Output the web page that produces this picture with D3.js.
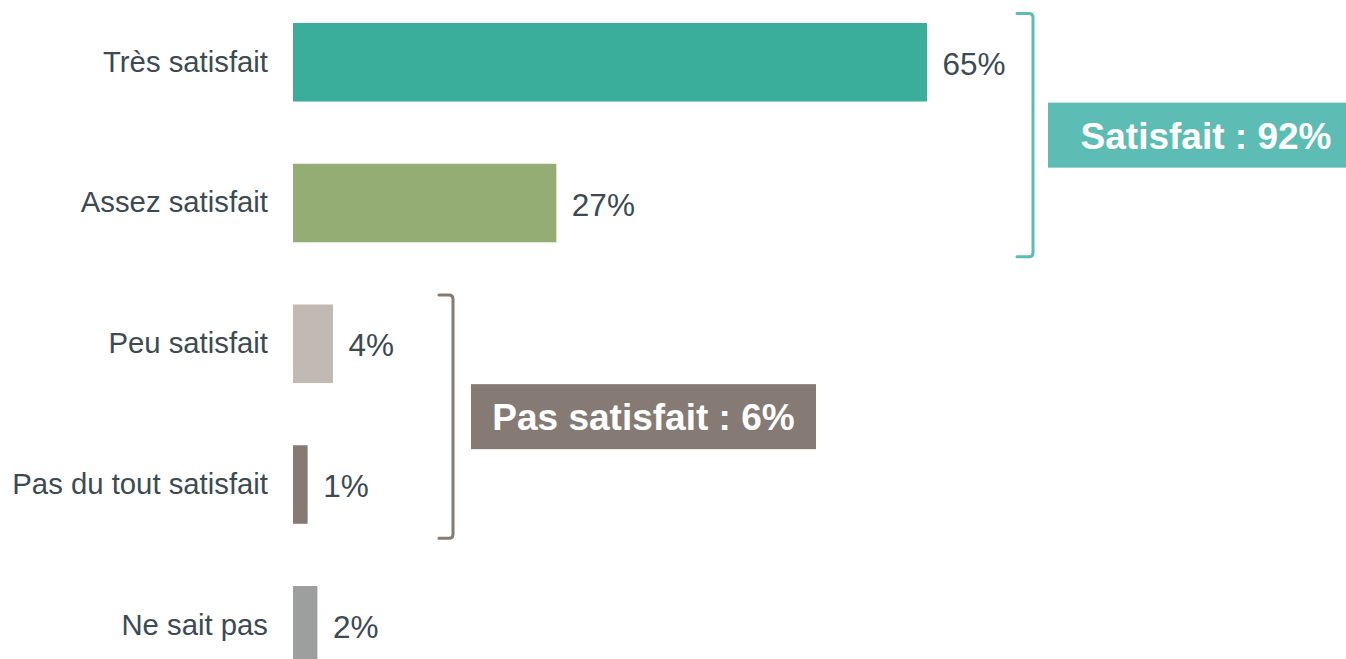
<!DOCTYPE html>
<html>
<head>
<meta charset="utf-8">
<script src="https://cdn.jsdelivr.net/npm/d3@7"></script>
<style>
  html, body { margin: 0; padding: 0; background: #ffffff; overflow: hidden; }
  svg { display: block; }
  text { font-family: "Liberation Sans", Arial, sans-serif; }
</style>
</head>
<body>
<svg id="chart" width="1346" height="659"></svg>
<script>
// ---- data ----
const categories = ["Très satisfait", "Assez satisfait", "Peu satisfait", "Pas du tout satisfait", "Ne sait pas"];
const values = [65, 27, 4.1, 1.5, 2.5];
const valueLabels = ["65%", "27%", "4%", "1%", "2%"];
const barColors = ["#3aae9a", "#93ad74", "#c1b9b3", "#857b74", "#9d9f9e"];
const groupNames = ["Satisfait : 92%", "Pas satisfait : 6%"];
const groupMembers = [[0, 1], [2, 3]];
const groupColors = ["#5dbdb4", "#857b74"];

// ---- layout ----
const W = 1346, H = 659;
const svg = d3.select("#chart");
const textColor = "#3c4a52";

const x = d3.scaleLinear().domain([0, 100]).range([293, 293 + 975.4]);
const y = d3.scaleBand().domain(categories).range([-8.1, 695.65])
  .paddingInner(0.442).paddingOuter(0.221);

// category axis (labels only)
const yAxis = d3.axisLeft(y).tickSize(0).tickPadding(25);
const gAxis = svg.append("g").attr("transform", `translate(${x(0)},0)`).call(yAxis);
gAxis.select(".domain").remove();
gAxis.selectAll("text")
  .attr("font-size", 29.3)
  .attr("fill", textColor)
  .attr("font-family", "'Liberation Sans', Arial, sans-serif");

// bars
svg.append("g").selectAll("rect").data(categories).join("rect")
  .attr("x", x(0))
  .attr("y", d => y(d))
  .attr("width", (d, i) => x(values[i]) - x(0))
  .attr("height", y.bandwidth())
  .attr("fill", (d, i) => barColors[i]);

// value labels
svg.append("g").selectAll("text").data(categories).join("text")
  .attr("x", (d, i) => x(values[i]) + 15.5)
  .attr("y", d => y(d) + y.bandwidth() / 2 + 1.5)
  .attr("dominant-baseline", "central")
  .attr("font-size", 31.5)
  .attr("fill", textColor)
  .text((d, i) => valueLabels[i]);

// brackets + group boxes
const bracketX = [1033, 453];
const tickLen = [16, 14];
const boxGap = [15, 18];
const boxW = [316, 345];
const boxH = 65;
const r = 4;

groupMembers.forEach((members, gi) => {
  const top = y(categories[members[0]]) - 9.5;
  const bottom = y(categories[members[members.length - 1]]) + y.bandwidth() + 14.5;
  const bx = bracketX[gi];
  const tl = tickLen[gi];
  const path = d3.path();
  path.moveTo(bx - tl, top);
  path.lineTo(bx - r, top);
  path.quadraticCurveTo(bx, top, bx, top + r);
  path.lineTo(bx, bottom - r);
  path.quadraticCurveTo(bx, bottom, bx - r, bottom);
  path.lineTo(bx - tl, bottom);
  svg.append("path")
    .attr("d", path.toString())
    .attr("fill", "none")
    .attr("stroke", groupColors[gi])
    .attr("stroke-width", 3)
    .attr("stroke-linecap", "round");

  const mid = (top + bottom) / 2;
  const x0 = bx + boxGap[gi];
  svg.append("rect")
    .attr("x", x0)
    .attr("y", mid - boxH / 2)
    .attr("width", boxW[gi])
    .attr("height", boxH)
    .attr("fill", groupColors[gi]);
  svg.append("text")
    .attr("x", x0 + boxW[gi] / 2)
    .attr("y", mid + 1)
    .attr("text-anchor", "middle")
    .attr("dominant-baseline", "central")
    .attr("font-size", 37)
    .attr("font-weight", "bold")
    .attr("fill", "#ffffff")
    .text(groupNames[gi]);
});
</script>
</body>
</html>
